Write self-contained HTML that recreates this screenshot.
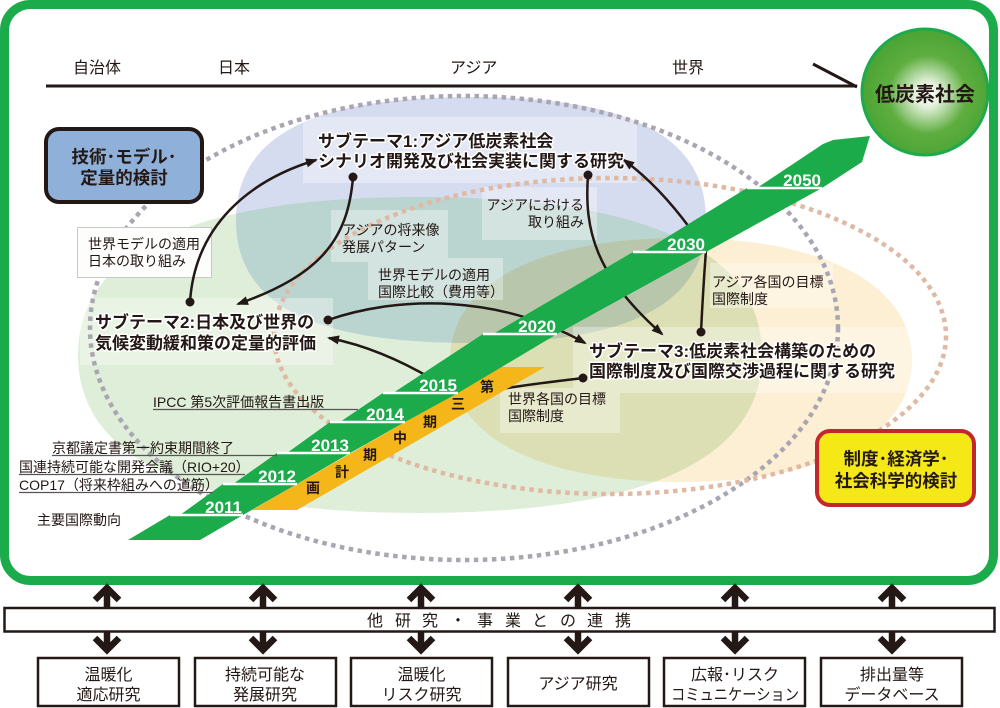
<!DOCTYPE html>
<html><head><meta charset="utf-8"><style>
html,body{margin:0;padding:0;background:#fff;}
svg{display:block;}
text{font-family:"Liberation Sans","Noto Sans CJK JP",sans-serif;}
</style></head><body>
<svg width="1000" height="708" viewBox="0 0 1000 708" xmlns="http://www.w3.org/2000/svg">
<defs>
<marker id="ah" viewBox="0 0 12 10" refX="10" refY="5" markerWidth="12" markerHeight="10" markerUnits="userSpaceOnUse" orient="auto">
<path d="M0,0.5 L12,5 L0,9.5 Z" fill="#231815"/></marker>
<radialGradient id="cg" cx="0.52" cy="0.52" r="0.5">
<stop offset="0" stop-color="#ffffff"/>
<stop offset="0.2" stop-color="#e3f0dc"/>
<stop offset="0.62" stop-color="#5eae3f"/>
<stop offset="1" stop-color="#4ca535"/>
</radialGradient>
<clipPath id="blueclip"><path d="M236,220 C236,136.4 311.2,97 471,97 C630.8,97 706,136.4 706,220 C706,303.6 630.8,343 471,343 C311.2,343 236,303.6 236,220Z"/></clipPath>
</defs>

<!-- pale ellipses -->
<path d="M78,355 C78,250.7 194.3,197 420,197 C645.7,197 762,250.7 762,355 C762,459.3 645.7,513 420,513 C194.3,513 78,459.3 78,355Z" fill="#dfeed8"/>
<path d="M236,220 C236,136.4 311.2,97 471,97 C630.8,97 706,136.4 706,220 C706,303.6 630.8,343 471,343 C311.2,343 236,303.6 236,220Z" fill="#d5dcef"/>
<path clip-path="url(#blueclip)" d="M78,355 C78,250.7 194.3,197 420,197 C645.7,197 762,250.7 762,355 C762,459.3 645.7,513 420,513 C194.3,513 78,459.3 78,355Z" fill="#bad5d0"/>
<path d="M450,360 C450,284.4 537.8,238 681,238 C824.2,238 912,284.4 912,360 C912,435.6 824.2,482 681,482 C537.8,482 450,435.6 450,360Z" fill="#fcefd3" style="mix-blend-mode:multiply"/>

<!-- translucent label backgrounds -->
<g fill="#fff" opacity="0.35">
<rect x="303" y="117" width="334" height="66"/>
<rect x="331" y="210" width="117" height="52"/>
<rect x="368" y="258" width="135" height="42"/>
<rect x="482" y="187" width="115" height="53"/>
<rect x="80" y="298" width="253" height="67"/>
<rect x="573" y="327" width="340" height="66"/>
<rect x="500" y="388" width="120" height="45"/>
<rect x="710" y="263" width="123" height="45"/>
</g>

<!-- dotted ellipses -->
<ellipse cx="464" cy="328" rx="374" ry="232" fill="none" stroke="#a9a5b2" stroke-width="4.5" stroke-dasharray="4.5 4.5"/>
<ellipse cx="610" cy="336" rx="336" ry="158" fill="none" stroke="#dfb9a3" stroke-width="4.5" stroke-dasharray="4.5 4.5"/>

<!-- left info box -->
<rect x="77.5" y="227.5" width="134" height="50" fill="#fdfefc" stroke="#c8c8c8" stroke-width="1"/>

<!-- frame -->
<rect x="4.5" y="4.5" width="989" height="576" rx="26" fill="none" stroke="#1bab4b" stroke-width="9"/>

<!-- axis -->
<line x1="46" y1="86" x2="857" y2="86" stroke="#231815" stroke-width="3"/>
<line x1="813" y1="64" x2="857" y2="87" stroke="#231815" stroke-width="3"/>
<g font-size="16" fill="#231815">
<text x="73" y="73">自治体</text>
<text x="218" y="73">日本</text>
<text x="450" y="73">アジア</text>
<text x="672" y="73">世界</text>
</g>

<!-- circle -->
<circle cx="925" cy="92" r="63" fill="url(#cg)" stroke="#1cab4c" stroke-width="3"/>
<text x="925" y="101" font-size="20" font-weight="bold" fill="#231815" text-anchor="middle">低炭素社会</text>

<!-- connectors -->
<g fill="none" stroke="#231815" stroke-width="2.5">
<path d="M190,302 C195,225 250,180 316,160" marker-end="url(#ah)"/>
<path d="M353,177 C348,240 320,275 238,304" marker-end="url(#ah)"/>
<path d="M328,320 C400,295 500,295 585,343" marker-end="url(#ah)"/>
<path d="M434,380 Q380,348 329,338" marker-end="url(#ah)"/>
<path d="M583,378 C560,381 530,384 495,390"/>
<path d="M588,175 C584,230 595,275 662,334" marker-end="url(#ah)"/>
<path d="M697,238 Q662,188 624,160" marker-end="url(#ah)"/>
<path d="M701,332 Q703,290 706,250"/>
</g>
<g fill="#231815">
<circle cx="190" cy="302" r="4.5"/>
<circle cx="353" cy="177" r="4.5"/>
<circle cx="328" cy="320" r="4.5"/>
<circle cx="583" cy="378" r="4.5"/>
<circle cx="588" cy="175" r="4.5"/>
<circle cx="701" cy="332" r="4.5"/>
</g>

<!-- orange band -->
<polygon points="252,510 297,510 545,367 501,367" fill="#f5b619"/>
<!-- green band -->
<polygon points="128,540 170,515 180,515 223,484 233,484 277,453 287,453 330,422 340,422 383,393 393,393 483,334 493,334 633,252 643,252 747,188 757,188 823,144 833,140 870,136 862,162 822,188 706,252 557,334 458,393 405,422 350,453 297,484 243,515 200,540" fill="#1bab4b"/>
<g stroke="#fff" stroke-width="2.5">
<line x1="170" y1="515" x2="243" y2="515"/>
<line x1="223" y1="484" x2="297" y2="484"/>
<line x1="277" y1="453" x2="350" y2="453"/>
<line x1="330" y1="422" x2="405" y2="422"/>
<line x1="383" y1="393" x2="458" y2="393"/>
<line x1="483" y1="334" x2="557" y2="334"/>
<line x1="633" y1="252" x2="706" y2="252"/>
<line x1="747" y1="188" x2="822" y2="188"/>
</g>
<g fill="#fff" font-size="17" font-weight="bold" text-anchor="end">
<text x="242" y="513">2011</text>
<text x="296" y="482">2012</text>
<text x="349" y="451">2013</text>
<text x="404" y="420">2014</text>
<text x="457" y="391">2015</text>
<text x="556" y="332">2020</text>
<text x="705" y="250">2030</text>
<text x="821" y="186">2050</text>
</g>
<g fill="#231815" font-size="14" font-weight="bold" text-anchor="middle">
<text x="313" y="493">画</text>
<text x="342" y="477">計</text>
<text x="370" y="460">期</text>
<text x="400" y="443">中</text>
<text x="430" y="427">期</text>
<text x="458" y="409">三</text>
<text x="487" y="392">第</text>
</g>

<!-- small labels -->
<g font-size="14" fill="#231815">
<text x="88" y="249">世界モデルの適用</text>
<text x="88" y="266">日本の取り組み</text>
<text x="342" y="235">アジアの将来像</text>
<text x="342" y="252">発展パターン</text>
<text x="378" y="280">世界モデルの適用</text>
<text x="378" y="297">国際比較（費用等）</text>
<text x="584" y="210" text-anchor="end">アジアにおける</text>
<text x="584" y="227" text-anchor="end">取り組み</text>
<text x="712" y="287">アジア各国の目標</text>
<text x="712" y="304">国際制度</text>
<text x="508" y="404">世界各国の目標</text>
<text x="508" y="421">国際制度</text>
<text x="153" y="407">IPCC 第5次評価報告書出版</text>
<text x="52" y="453">京都議定書第一約束期間終了</text>
<text x="19" y="472">国連持続可能な開発会議（RIO+20）</text>
<text x="19" y="490">COP17（将来枠組みへの道筋）</text>
<text x="37" y="525">主要国際動向</text>
</g>
<g stroke="#555" stroke-width="1.3">
<line x1="153" y1="409.5" x2="358" y2="409.5"/>
<line x1="52" y1="455.5" x2="277" y2="455.5"/>
<line x1="19" y1="474.5" x2="245" y2="474.5"/>
<line x1="19" y1="492.5" x2="213" y2="492.5"/>
</g>

<!-- subtheme titles -->
<g font-size="17" font-weight="bold" fill="#231815" stroke="#fff" stroke-width="3" paint-order="stroke" stroke-linejoin="round">
<text x="318" y="147">サブテーマ1:アジア低炭素社会</text>
<text x="318" y="167">シナリオ開発及び社会実装に関する研究</text>
<text x="95" y="328">サブテーマ2:日本及び世界の</text>
<text x="95" y="349">気候変動緩和策の定量的評価</text>
<text x="589" y="357">サブテーマ3:低炭素社会構築のための</text>
<text x="589" y="377">国際制度及び国際交渉過程に関する研究</text>
</g>

<!-- category boxes -->
<rect x="46" y="129" width="156" height="73" rx="13" fill="#8fb0d9" stroke="#231815" stroke-width="4"/>
<g font-size="17.5" font-weight="bold" fill="#231815" text-anchor="middle">
<text x="124" y="163">技術･モデル･</text>
<text x="124" y="184">定量的検討</text>
</g>
<rect x="817" y="431" width="157" height="74" rx="13" fill="#f4e916" stroke="#c1272d" stroke-width="4"/>
<g font-size="17.5" font-weight="bold" fill="#231815" text-anchor="middle">
<text x="896" y="465">制度･経済学･</text>
<text x="896" y="487">社会科学的検討</text>
</g>

<!-- bottom section -->
<rect x="4.5" y="608" width="990" height="23.5" fill="#fff" stroke="#231815" stroke-width="2.5"/>
<text y="626" font-size="16" fill="#231815" x="367 395 422 450 477 505 532 560 587 615">他研究・事業との連携</text>

<g stroke="#231815" stroke-width="6.5" fill="none" stroke-linejoin="miter">
<path d="M107,589 V607 M95,600 L107,588 L119,600"/>
<path d="M107,632 V649 M95,638 L107,650 L119,638"/>
<path d="M263,589 V607 M251,600 L263,588 L275,600"/>
<path d="M263,632 V649 M251,638 L263,650 L275,638"/>
<path d="M421,589 V607 M409,600 L421,588 L433,600"/>
<path d="M421,632 V649 M409,638 L421,650 L433,638"/>
<path d="M578,589 V607 M566,600 L578,588 L590,600"/>
<path d="M578,632 V649 M566,638 L578,650 L590,638"/>
<path d="M735,589 V607 M723,600 L735,588 L747,600"/>
<path d="M735,632 V649 M723,638 L735,650 L747,638"/>
<path d="M892,589 V607 M880,600 L892,588 L904,600"/>
<path d="M892,632 V649 M880,638 L892,650 L904,638"/>
</g>

<g fill="#fff" stroke="#231815" stroke-width="2.5">
<rect x="38" y="658" width="141" height="48"/>
<rect x="195" y="658" width="141" height="48"/>
<rect x="351" y="658" width="141" height="48"/>
<rect x="508" y="658" width="141" height="48"/>
<rect x="664" y="658" width="141" height="48"/>
<rect x="821" y="658" width="141" height="48"/>
</g>
<g font-size="16" fill="#231815" text-anchor="middle">
<text x="108.5" y="680">温暖化</text>
<text x="108.5" y="700">適応研究</text>
<text x="265" y="680">持続可能な</text>
<text x="265" y="700">発展研究</text>
<text x="421.5" y="680">温暖化</text>
<text x="421.5" y="700">リスク研究</text>
<text x="578" y="689">アジア研究</text>
<text x="735" y="680">広報･リスク</text>
<text x="735" y="700" textLength="128" lengthAdjust="spacingAndGlyphs">コミュニケーション</text>
<text x="892" y="680">排出量等</text>
<text x="892" y="700">データベース</text>
</g>
</svg>
</body></html>
